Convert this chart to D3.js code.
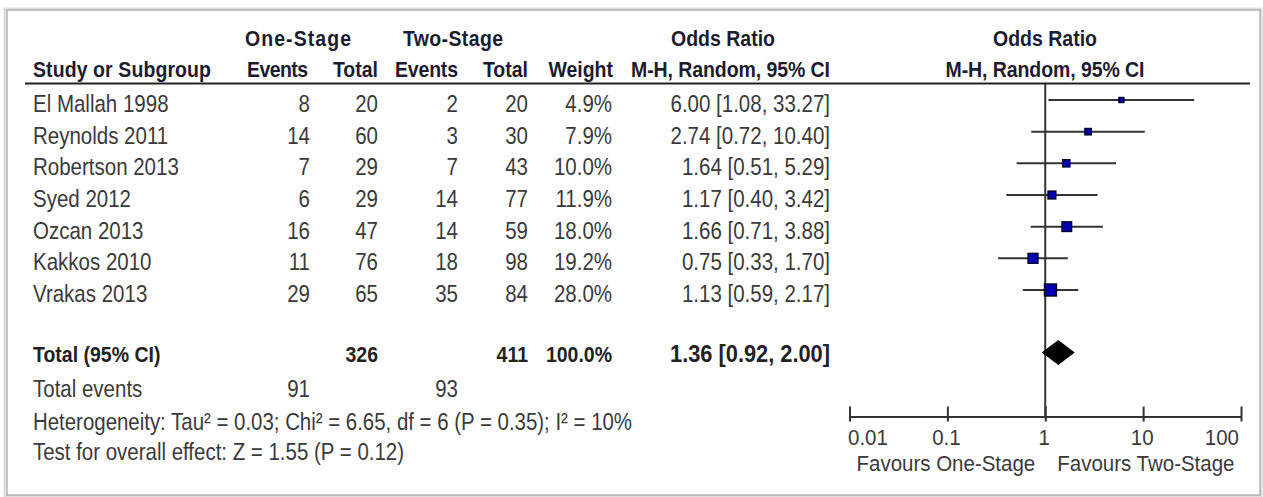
<!DOCTYPE html>
<html>
<head>
<meta charset="utf-8">
<script src="https://cdn.jsdelivr.net/npm/d3@7"></script>
<style>
  html, body { margin: 0; padding: 0; background: #fff; }
  svg { display: block; }
  text { font-family: Arial, "Liberation Sans", sans-serif; }
</style>
</head>
<body>
<svg id="chart" width="1263" height="497"></svg>
<script>
// Study-level data (One-Stage vs Two-Stage)
const studies     = ["El Mallah 1998", "Reynolds 2011", "Robertson 2013", "Syed 2012", "Ozcan 2013", "Kakkos 2010", "Vrakas 2013"];
const oneEvents   = [8, 14, 7, 6, 16, 11, 29];
const oneTotal    = [20, 60, 29, 29, 47, 76, 65];
const twoEvents   = [2, 3, 7, 14, 14, 18, 35];
const twoTotal    = [20, 30, 43, 77, 59, 98, 84];
const weights     = [4.9, 7.9, 10.0, 11.9, 18.0, 19.2, 28.0];
const oddsRatio   = [6.00, 2.74, 1.64, 1.17, 1.66, 0.75, 1.13];
const ciLow       = [1.08, 0.72, 0.51, 0.40, 0.71, 0.33, 0.59];
const ciHigh      = [33.27, 10.40, 5.29, 3.42, 3.88, 1.70, 2.17];

// Pooled estimate
const pooledOR    = 1.36;
const pooledLow   = 0.92;
const pooledHigh  = 2.00;
const totalOne    = 326;
const totalTwo    = 411;
const totalWeight = 100.0;
const eventsOne   = 91;
const eventsTwo   = 93;

const heterogeneityText = "Heterogeneity: Tau\u00B2 = 0.03; Chi\u00B2 = 6.65, df = 6 (P = 0.35); I\u00B2 = 10%";
const overallEffectText = "Test for overall effect: Z = 1.55 (P = 0.12)";

// Axis ticks
const axisTicks = [0.01, 0.1, 1, 10, 100];
const tickLabels = ["0.01", "0.1", "1", "10", "100"];
const favoursLeft = "Favours One-Stage";
const favoursRight = "Favours Two-Stage";

const svg = d3.select("#chart");
const FS = 20.5;
const SY = 1.15;            // slightly tall lettering
const bodyColor = "#3a3a3a";
const headColor = "#1c1c30";

// frame with soft shadow
svg.append("rect").attr("x", 5).attr("y", 9).attr("width", 1256).attr("height", 487)
  .attr("fill", "none").attr("stroke", "#dedede").attr("stroke-width", 3);
svg.append("rect").attr("x", 7).attr("y", 10).attr("width", 1253).attr("height", 485)
  .attr("fill", "#fff").attr("stroke", "#a4a4a4").attr("stroke-width", 1.2);

// scales
const x = d3.scaleLog().domain([0.01, 100]).range([849.5, 1241]);
const y = d3.scalePoint().domain(studies).range([100, 290]);
const totalY = 352.5;
const sideScale = d3.scaleSqrt().domain([0, 28]).range([0, 12]);

// column right edges
const col = { ev1: 310, tot1: 378, ev2: 458, tot2: 528, wt: 612, or: 830 };

function txt(xp, yp, s, opts = {}) {
  const t = svg.append("text")
    .attr("transform", `translate(${xp},${yp}) scale(1,${opts.sy || SY})`)
    .attr("text-anchor", opts.anchor || "end")
    .attr("font-size", opts.size || FS)
    .attr("font-weight", opts.bold ? "bold" : "normal")
    .attr("fill", opts.color || bodyColor)
    .text(s);
  if (opts.len) t.attr("textLength", opts.len).attr("lengthAdjust", opts.adjust || "spacingAndGlyphs");
  return t;
}

// header
const h1 = 46, h2 = 77;
const hb = { bold: true, color: headColor, size: 19.5, adjust: "spacing" };
txt(245, h1, "One-Stage", { ...hb, anchor: "start", len: 106 });
txt(403, h1, "Two-Stage", { ...hb, anchor: "start", len: 100 });
txt(723, h1, "Odds Ratio", { ...hb, anchor: "middle", len: 104 });
txt(1045, h1, "Odds Ratio", { ...hb, anchor: "middle", len: 104 });

txt(33, h2, "Study or Subgroup", { ...hb, anchor: "start", len: 178 });
txt(col.ev1 - 2, h2, "Events", { ...hb, len: 61 });
txt(col.tot1, h2, "Total", hb);
txt(col.ev2, h2, "Events", { ...hb, len: 63 });
txt(col.tot2, h2, "Total", hb);
txt(col.wt + 1, h2, "Weight", hb);
txt(col.or, h2, "M-H, Random, 95% CI", { ...hb, len: 199 });
txt(1045, h2, "M-H, Random, 95% CI", { ...hb, anchor: "middle", len: 199 });

svg.append("line").attr("x1", 25).attr("x2", 1250).attr("y1", 83.5).attr("y2", 83.5)
  .attr("stroke", "#222").attr("stroke-width", 2);

// study rows
const fmt2 = d3.format(".2f");
const fmt1 = d3.format(".1f");
studies.forEach((s, i) => {
  const by = y(s) + 12;
  txt(33, by, s, { anchor: "start" });
  txt(col.ev1, by, oneEvents[i]);
  txt(col.tot1, by, oneTotal[i]);
  txt(col.ev2, by, twoEvents[i]);
  txt(col.tot2, by, twoTotal[i]);
  txt(col.wt, by, fmt1(weights[i]) + "%");
  txt(col.or, by, `${fmt2(oddsRatio[i])} [${fmt2(ciLow[i])}, ${fmt2(ciHigh[i])}]`);
});

// totals
const ty = 362;
const tb = { bold: true, color: "#222", size: 19.5 };
txt(33, ty, "Total (95% CI)", { ...tb, anchor: "start" });
txt(col.tot1, ty, totalOne, tb);
txt(col.tot2, ty, totalTwo, tb);
txt(col.wt, ty, fmt1(totalWeight) + "%", tb);
txt(col.or, ty, `${fmt2(pooledOR)} [${fmt2(pooledLow)}, ${fmt2(pooledHigh)}]`, { ...tb, size: 20, len: 160 });

txt(33, 397, "Total events", { anchor: "start" });
txt(col.ev1, 397, eventsOne);
txt(col.ev2, 397, eventsTwo);
txt(33, 430, heterogeneityText, { anchor: "start", len: 599 });
txt(33, 460, overallEffectText, { anchor: "start", len: 371 });

// forest plot
const axisY = 416.5;
svg.append("line").attr("x1", x(1)).attr("x2", x(1)).attr("y1", 84).attr("y2", axisY)
  .attr("stroke", "#333").attr("stroke-width", 2);

const rows = svg.append("g");
studies.forEach((s, i) => {
  rows.append("line")
    .attr("x1", x(ciLow[i])).attr("x2", x(ciHigh[i]))
    .attr("y1", y(s)).attr("y2", y(s))
    .attr("stroke", "#333").attr("stroke-width", 2);
  const side = sideScale(weights[i]);
  rows.append("rect")
    .attr("x", x(oddsRatio[i]) - side / 2).attr("y", y(s) - side / 2)
    .attr("width", side).attr("height", side)
    .attr("fill", "#0000b4").attr("stroke", "#000028").attr("stroke-width", 1.4);
});

// pooled diamond
const dh = 12.5;
svg.append("path")
  .attr("d", `M${x(pooledLow)},${totalY} L${x(pooledOR)},${totalY - dh} L${x(pooledHigh)},${totalY} L${x(pooledOR)},${totalY + dh} Z`)
  .attr("fill", "#000");

// axis
const axis = d3.axisBottom(x).tickValues(axisTicks).tickSize(0).tickFormat("");
const gAxis = svg.append("g").attr("transform", `translate(0,${axisY})`).call(axis);
gAxis.select(".domain").attr("stroke", "#333").attr("stroke-width", 2);
gAxis.selectAll(".tick").append("line").attr("y1", -10).attr("y2", 5)
  .attr("stroke", "#333").attr("stroke-width", 2);
axisTicks.forEach((t, i) => {
  const anchor = i === 0 ? "start" : (i === axisTicks.length - 1 ? "end" : "middle");
  const dx = i === 0 ? -1.5 : (i === axisTicks.length - 1 ? -2 : -1);
  txt(x(t) + dx, 445, tickLabels[i], { anchor, sy: 1.05 });
});
txt(x(1) - 10, 471, favoursLeft, { anchor: "end", sy: 1.1 });
txt(x(1) + 12, 471, favoursRight, { anchor: "start", sy: 1.1 });
</script>
</body>
</html>
